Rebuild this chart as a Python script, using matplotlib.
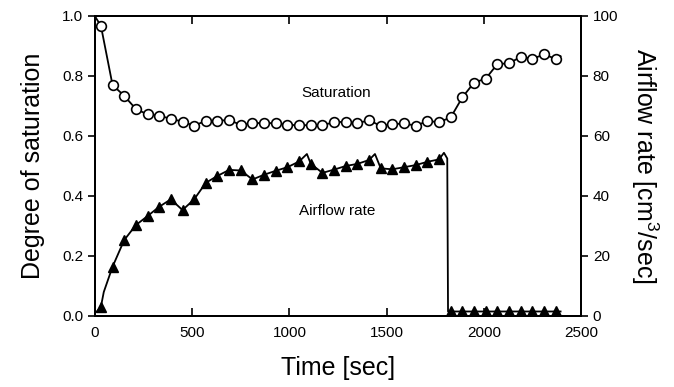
import matplotlib
matplotlib.use('Agg')
import matplotlib.pyplot as plt

plt.rcParams['font.family'] = ['Liberation Sans', 'DejaVu Sans']
plt.rcParams['mathtext.fontset'] = 'custom'
plt.rcParams['mathtext.rm'] = 'Liberation Sans'

# marker times [sec]
t_marks = [30, 90, 150, 210, 270, 330, 390, 450, 510, 570, 630, 690, 750, 810,
           870, 930, 990, 1050, 1110, 1170, 1230, 1290, 1350, 1410, 1470, 1530,
           1590, 1650, 1710, 1770, 1830, 1890, 1950, 2010, 2070, 2130, 2190,
           2250, 2310, 2370]

saturation = [0.968, 0.770, 0.734, 0.690, 0.672, 0.668, 0.657, 0.648, 0.634,
              0.651, 0.651, 0.653, 0.637, 0.642, 0.644, 0.642, 0.637, 0.636,
              0.636, 0.637, 0.645, 0.648, 0.642, 0.653, 0.633, 0.639, 0.642,
              0.634, 0.650, 0.646, 0.662, 0.729, 0.778, 0.791, 0.840, 0.842,
              0.864, 0.857, 0.872, 0.857]

airflow = [3.0, 16.4, 25.3, 30.3, 33.3, 36.4, 38.9, 35.3, 38.9, 44.4, 46.7,
           48.7, 48.5, 45.5, 47.1, 48.4, 49.6, 51.5, 50.7, 47.7, 48.8, 50.0,
           50.7, 52.0, 49.2, 48.9, 49.6, 50.3, 51.4, 52.2, 1.5, 1.5, 1.5, 1.5,
           1.5, 1.5, 1.5, 1.5, 1.5, 1.5]

# continuous traces (extra points between markers)
sat_line_t = [0, 8] + t_marks + [2395]
sat_line = [1.0, 0.99] + saturation + [0.866]

air_line_t = [8, 30, 45, 90, 150, 210, 270, 330, 390, 450, 510, 570, 630, 690,
              750, 810, 870, 930, 990, 1050, 1090, 1110, 1170, 1230, 1290, 1350,
              1410, 1440, 1470, 1530, 1590, 1650, 1710, 1770, 1795, 1812, 1816,
              1830, 2395]
air_line = [1.4, 3.0, 8.0, 16.4, 25.3, 30.3, 33.3, 36.4, 38.9, 35.3, 38.9,
            44.4, 46.7, 48.7, 48.5, 45.5, 47.1, 48.4, 49.6, 51.5, 54.0, 50.7,
            47.7, 48.8, 50.0, 50.7, 52.0, 54.0, 49.2, 48.9, 49.6, 50.3, 51.4,
            52.2, 54.4, 52.5, 1.5, 1.5, 1.5]

fig = plt.figure(figsize=(6.74, 3.87), dpi=100)
ax = fig.add_axes([0.141, 0.1835, 0.721, 0.7752])
ax2 = ax.twinx()

ax.plot(sat_line_t, sat_line, color='black', lw=1.3, zorder=2)
ax.plot(t_marks, saturation, 'o', ms=7, mfc='white', mec='black', mew=1.2, zorder=3)

ax2.plot(air_line_t, air_line, color='black', lw=1.3, zorder=2)
ax2.plot(t_marks, airflow, '^', ms=7.5, color='black', zorder=3)

ax.set_xlim(0, 2500)
ax.set_ylim(0, 1.0)
ax2.set_ylim(0, 100)

ax.set_xticks([0, 500, 1000, 1500, 2000, 2500])
ax.set_yticks([0.0, 0.2, 0.4, 0.6, 0.8, 1.0])
ax.set_yticklabels(['0.0', '0.2', '0.4', '0.6', '0.8', '1.0'])
ax2.set_yticks([0, 20, 40, 60, 80, 100])

ax.tick_params(axis='x', direction='in', top=True, length=6, width=1.2,
               labelsize=11, pad=7)
ax.tick_params(axis='y', direction='out', length=5, width=1.2, labelsize=11)
ax2.tick_params(axis='y', direction='out', length=5, width=1.2, labelsize=11)

for a in (ax, ax2):
    for s in a.spines.values():
        s.set_linewidth(1.4)

ax.set_xlabel('Time [sec]', fontsize=18, labelpad=12)
ax.set_ylabel('Degree of saturation', fontsize=18, labelpad=12)
ax2.set_ylabel('Airflow rate [cm$^3$/sec]', fontsize=18, rotation=270, labelpad=30)

ax.text(1243, 0.744, 'Saturation', fontsize=11, ha='center', va='center')
ax.text(1247, 0.351, 'Airflow rate', fontsize=11, ha='center', va='center')

fig.savefig('out.png', dpi=100)
